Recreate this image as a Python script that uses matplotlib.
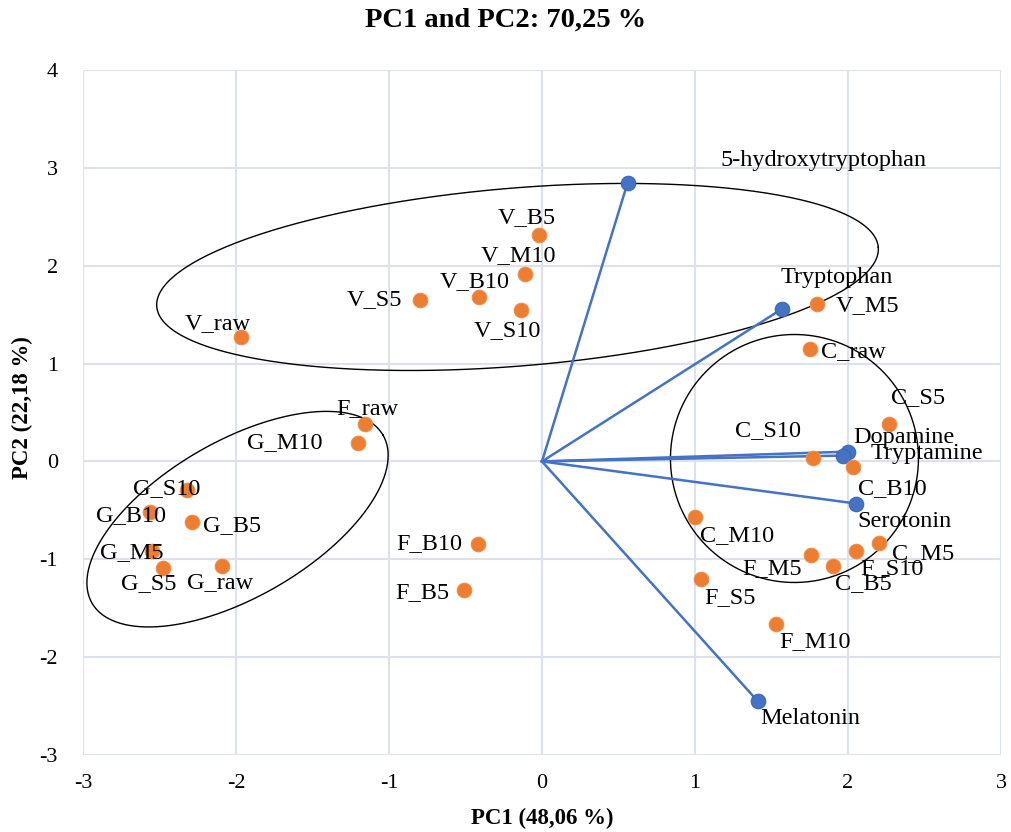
import numpy as np
import matplotlib
matplotlib.use('Agg')
import matplotlib.pyplot as plt

# scores (orange)
obs_names = ['V_raw', 'V_S5', 'V_B10', 'V_S10', 'V_M10', 'V_B5', 'V_M5',
             'C_raw', 'C_S5', 'C_S10', 'C_B10', 'C_M10', 'F_M5', 'C_B5',
             'F_S10', 'C_M5', 'F_S5', 'F_M10', 'F_raw', 'G_M10', 'G_S10',
             'G_B10', 'G_B5', 'G_M5', 'G_S5', 'G_raw', 'F_B10', 'F_B5']
obs_pc1 = [-1.97, -0.80, -0.41, -0.14, -0.11, -0.02, 1.80,
           1.75, 2.27, 1.77, 2.03, 1.00, 1.76, 1.90,
           2.05, 2.20, 1.04, 1.53, -1.16, -1.20, -2.32,
           -2.56, -2.29, -2.55, -2.48, -2.09, -0.42, -0.51]
obs_pc2 = [1.27, 1.65, 1.68, 1.55, 1.92, 2.31, 1.61,
           1.15, 0.38, 0.03, -0.06, -0.57, -0.96, -1.07,
           -0.92, -0.83, -1.20, -1.66, 0.38, 0.19, -0.29,
           -0.52, -0.62, -0.92, -1.09, -1.07, -0.84, -1.31]

# loadings (blue)
var_names = ['5-hydroxytryptophan', 'Tryptophan', 'Dopamine', 'Tryptamine',
             'Serotonin', 'Melatonin']
var_pc1 = [0.56, 1.57, 2.00, 1.97, 2.05, 1.41]
var_pc2 = [2.85, 1.56, 0.10, 0.06, -0.43, -2.45]

# label offsets in pixels (dx, dy, ha)
obs_off = {
    'V_raw': (-23, 14, 'center'), 'V_S5': (-17, 0, 'right'), 'V_B10': (-5, 15, 'center'),
    'V_S10': (-13, -21, 'center'), 'V_M10': (-7, 18, 'center'), 'V_B5': (-12, 18, 'center'),
    'V_M5': (18, -2, 'left'), 'C_raw': (11, -3, 'left'), 'C_S5': (29, 27, 'center'),
    'C_S10': (-45, 28, 'center'), 'C_B10': (40, -21, 'center'), 'C_M10': (42, -18, 'center'),
    'F_M5': (-39, -13, 'center'), 'C_B5': (31, -17, 'center'), 'F_S10': (36, -17, 'center'),
    'C_M5': (45, -11, 'center'), 'F_S5': (29, -19, 'center'), 'F_M10': (39, -18, 'center'),
    'F_raw': (3, 16, 'center'), 'G_M10': (-36, 0, 'right'), 'G_S10': (-20, 1, 'center'),
    'G_B10': (-19, -3, 'center'), 'G_B5': (40, -3, 'center'), 'G_M5': (-20, -1, 'center'),
    'G_S5': (-14, -15, 'center'), 'G_raw': (-2, -16, 'center'), 'F_B10': (-48, 0, 'center'),
    'F_B5': (-42, -3, 'center'),
}
var_off = {
    '5-hydroxytryptophan': (196, 22, 'center'), 'Tryptophan': (55, 31, 'center'),
    'Dopamine': (5, 14, 'left'), 'Tryptamine': (27, 2, 'left'),
    'Serotonin': (49, -18, 'center'), 'Melatonin': (53, -17, 'center'),
}

# group ellipses: center (data), semi-axes (px), angle (deg, on screen)
ell_centers = [(-0.16, 1.885), (1.65, 0.03), (-1.99, -0.59)]
ell_axes = [(362, 89), (124, 124), (168, 78)]
ell_angles = [4.7, 0, 30]

plt.rcParams['font.family'] = ['Liberation Serif', 'DejaVu Serif']
plt.rcParams['axes.unicode_minus'] = False

W, H = 1011, 832
fig = plt.figure(figsize=(W / 100, H / 100), dpi=100)
left, right, bottom, top = 83 / W, 1001 / W, 1 - 755 / H, 1 - 70 / H
ax = fig.add_axes([left, bottom, right - left, top - bottom])

xmin, xmax, ymin, ymax = -3, 3, -3, 4
ax.set_xlim(xmin, xmax)
ax.set_ylim(ymin, ymax)
ax.set_xticks(np.arange(-3, 4, 1))
ax.set_yticks(np.arange(-3, 5, 1))
ax.grid(True, color='#dde2ea', linewidth=1.5, zorder=0)
for s in ax.spines.values():
    s.set_visible(False)
ax.tick_params(length=0, labelsize=16)
ax.tick_params(axis='x', pad=14)
ax.tick_params(axis='y', pad=18)
ax.axhline(0, color='#333333', lw=1.1, zorder=1)
ax.axvline(0, color='#333333', lw=1.1, zorder=1)

# pixel scale for ellipses
sx = W * (right - left) / (xmax - xmin)
sy = H * (top - bottom) / (ymax - ymin)
t = np.linspace(0, 2 * np.pi, 400)
for (cx, cy), (a, b), ang in zip(ell_centers, ell_axes, ell_angles):
    p = np.deg2rad(ang)
    ex = cx + (a * np.cos(t) * np.cos(p) - b * np.sin(t) * np.sin(p)) / sx
    ey = cy + (a * np.cos(t) * np.sin(p) + b * np.sin(t) * np.cos(p)) / sy
    ax.plot(ex, ey, color='black', lw=1.0, zorder=2)

# loading vectors
for vx, vy in zip(var_pc1, var_pc2):
    ax.plot([0, vx], [0, vy], color='#4472C4', lw=1.8, zorder=3)
ax.scatter(var_pc1, var_pc2, s=110, color='#4472C4', edgecolors='#3d67b5',
           linewidths=0.8, zorder=4)
ax.scatter(obs_pc1, obs_pc2, s=110, color='#ED7D31', edgecolors='#f08c4a',
           linewidths=0.8, zorder=4)

for n, x, y in zip(obs_names, obs_pc1, obs_pc2):
    dx, dy, ha = obs_off[n]
    ax.annotate(n, (x, y), xytext=(dx, dy), textcoords='offset pixels',
                ha=ha, va='center', fontsize=17.5, zorder=5)
for n, x, y in zip(var_names, var_pc1, var_pc2):
    dx, dy, ha = var_off[n]
    ax.annotate(n, (x, y), xytext=(dx, dy), textcoords='offset pixels',
                ha=ha, va='center', fontsize=17.5, zorder=5)

fig.text(0.5, 1 - 20 / H, 'PC1 and PC2: 70,25 %', ha='center',
         va='center', fontsize=20.5, fontweight='bold')
fig.text((left + right) / 2, 1 - 818 / H, 'PC1 (48,06 %)', ha='center',
         va='center', fontsize=16.5, fontweight='bold')
fig.text(22 / W, 1 - 408 / H, 'PC2 (22,18 %)', ha='center', va='center',
         rotation=90, fontsize=16.5, fontweight='bold')

fig.savefig('out.png', dpi=100)
